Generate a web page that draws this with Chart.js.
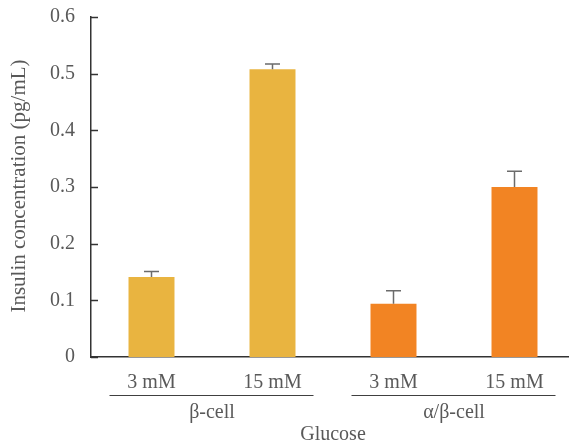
<!doctype html>
<html>
<head>
<meta charset="utf-8" />
<title>Insulin concentration</title>
<script src="https://cdn.jsdelivr.net/npm/chart.js@4"></script>
<style>
  html, body { margin:0; padding:0; background:#fff; overflow:hidden; }
  canvas { display:block; }
</style>
</head>
<body>
<!-- etwas breiter als das Fenster: die x-Achse läuft im Original über den Rand hinaus -->
<canvas id="c" width="575" height="446"></canvas>
<script>
// Werte
const categories = ['3 mM', '15 mM', '3 mM', '15 mM'];
const groups = ['β-cell', 'α/β-cell'];
const groupSpans = [[0, 1], [2, 3]];
const insulin = [0.141, 0.508, 0.094, 0.300];
const errUp = [0.010, 0.009, 0.023, 0.028];
const barColors = ['#E9B440', '#E9B440', '#F28423', '#F28423'];
const yTicks = [0, 0.1, 0.2, 0.3, 0.4, 0.5, 0.6];

const FONT = "'Liberation Serif', 'Times New Roman', serif";
const TXT = '#595959';
const AXIS = '#333333';

// Fehlerbalken (nur nach oben) + Achsen-Ticks nach innen + Gruppenbeschriftung
const extras = {
  id: 'extras',
  afterDatasetsDraw(chart) {
    const { ctx, scales: { x, y }, chartArea } = chart;
    const bars = chart.getDatasetMeta(0).data;
    ctx.save();
    ctx.strokeStyle = '#6b6b6b';
    ctx.lineWidth = 1.5;
    bars.forEach((b, i) => {
      const top = y.getPixelForValue(insulin[i] + errUp[i]);
      const base = y.getPixelForValue(insulin[i]);
      ctx.beginPath();
      ctx.moveTo(b.x, base); ctx.lineTo(b.x, top);
      ctx.moveTo(b.x - 7.5, top); ctx.lineTo(b.x + 7.5, top);
      ctx.stroke();
    });

    // Ticks nach innen
    ctx.strokeStyle = AXIS;
    ctx.lineWidth = 1.5;
    yTicks.forEach(v => {
      const py = Math.round(y.getPixelForValue(v)) + 0.5;
      ctx.beginPath();
      ctx.moveTo(chartArea.left, py); ctx.lineTo(chartArea.left + 7, py);
      ctx.stroke();
    });

    // Gruppenlinien und -labels
    ctx.fillStyle = TXT;
    ctx.font = '20px ' + FONT;
    ctx.textAlign = 'center';
    ctx.textBaseline = 'middle';
    ctx.strokeStyle = '#404040';
    ctx.lineWidth = 1.2;
    groupSpans.forEach(([a, b], gi) => {
      const xa = x.getPixelForValue(a), xb = x.getPixelForValue(b);
      ctx.beginPath();
      ctx.moveTo(xa - 42, 395.5); ctx.lineTo(xb + 41, 395.5);
      ctx.stroke();
      ctx.fillText(groups[gi], (xa + xb) / 2, 413);
    });
    const x0 = x.getPixelForValue(0), x3 = x.getPixelForValue(categories.length - 1);
    ctx.fillText('Glucose', (x0 + x3) / 2, 435);

    // Y-Titel
    ctx.font = '21px ' + FONT;
    ctx.translate(19, 186);
    ctx.rotate(-Math.PI / 2);
    ctx.fillText('Insulin concentration (pg/mL)', 0, 0);
    ctx.restore();
  }
};

new Chart(document.getElementById('c').getContext('2d'), {
  type: 'bar',
  data: {
    labels: categories,
    datasets: [{
      data: insulin,
      backgroundColor: barColors,
      borderWidth: 0,
      barPercentage: 0.38,
      categoryPercentage: 1
    }]
  },
  options: {
    responsive: false,
    animation: false,
    layout: { padding: { top: 17, right: 0, left: 0, bottom: 0 } },
    plugins: { legend: { display: false }, tooltip: { enabled: false } },
    scales: {
      x: {
        grid: { display: false, drawTicks: false },
        border: { color: AXIS, width: 1.5 },
        ticks: { color: TXT, font: { family: FONT, size: 20 }, padding: 14, maxRotation: 0 },
        afterFit(s) { s.height = 89; s.paddingLeft = 0; s.paddingRight = 0; }
      },
      y: {
        min: 0, max: 0.6,
        grid: { display: false, drawTicks: false },
        border: { color: AXIS, width: 1.5 },
        ticks: {
          stepSize: 0.1,
          color: TXT,
          font: { family: FONT, size: 20 },
          padding: 16,
          callback: v => v === 0 ? '0' : v.toFixed(1)
        },
        afterFit(s) { s.width = 91; s.paddingTop = 0; s.paddingBottom = 0; }
      }
    }
  },
  plugins: [extras]
});
</script>
</body>
</html>
